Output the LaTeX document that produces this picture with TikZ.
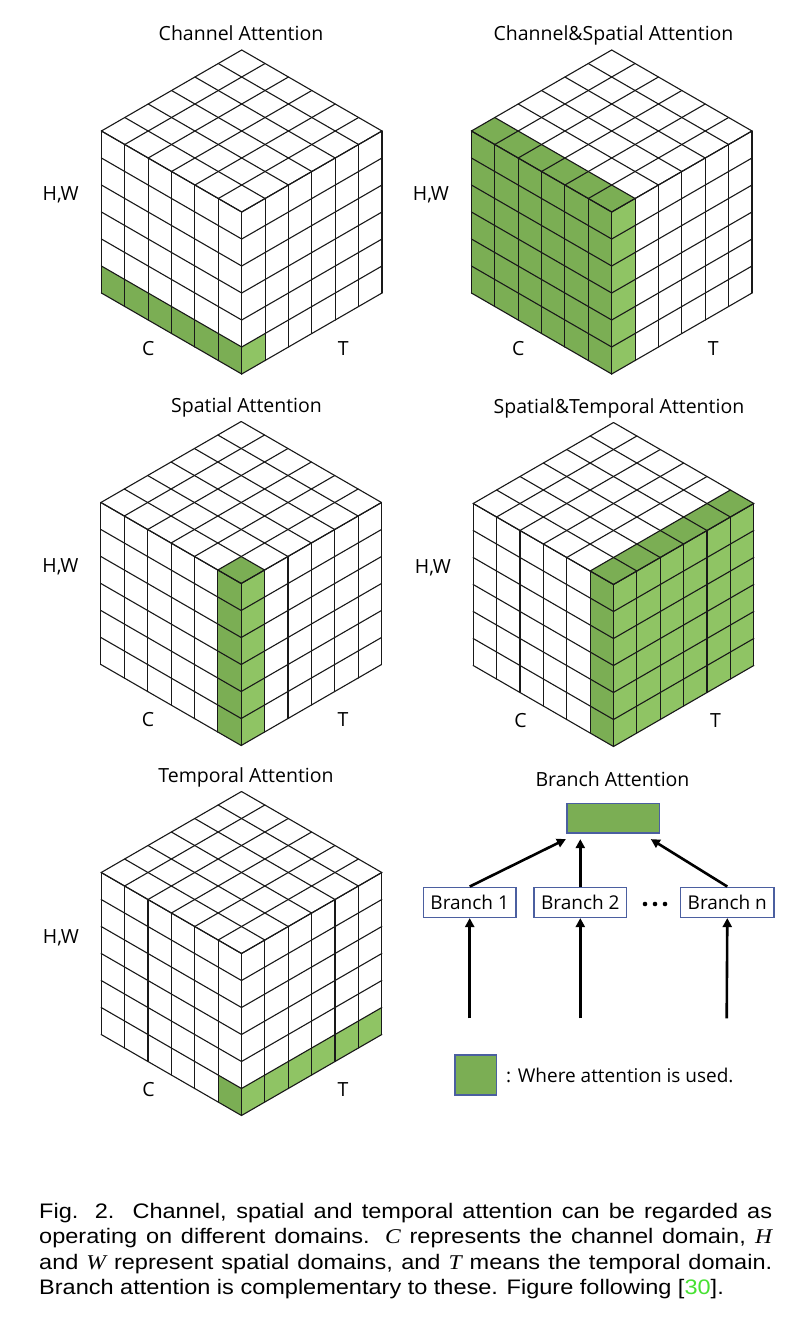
\documentclass[tikz,border=0pt]{standalone}
\usepackage{fontspec}
\setmainfont{Open Sans}
\newfontfamily\capfont[FakeStretch=1.12]{Liberation Sans}
\newfontfamily\timesf[FakeStretch=1.12]{Liberation Serif}
\usetikzlibrary{arrows.meta,calc}
\definecolor{gdark}{RGB}{123,174,84}
\definecolor{glight}{RGB}{143,196,100}
\definecolor{bblue}{RGB}{75,95,160}
\definecolor{cgreen}{RGB}{70,225,50}
\newcommand\cubegrid{%
  \foreach \i in {0,...,6}{%
    \draw[gridline] (\i,0,0) -- (\i,0,6);
    \draw[gridline] (0,0,\i) -- (6,0,\i);
    \draw[gridline] (6,\i,0) -- (6,\i,6);
    \draw[gridline] (6,0,\i) -- (6,6,\i);
    \draw[gridline] (\i,0,6) -- (\i,6,6);
    \draw[gridline] (0,\i,6) -- (6,\i,6);
  }}
\newcommand\attcube[3]{%
  \begin{scope}[shift={(#1-140.3,#2+243)}, x={(23.383pt,-13.5pt)}, y={(23.383pt,13.5pt)}, z={(0pt,27pt)}]
    #3
    \cubegrid
  \end{scope}}
\newcommand\mi[1]{{\timesf\itshape #1}}
\begin{document}
\begin{tikzpicture}[x=1pt,y=-1pt,
  gridline/.style={line width=1.1pt, black!90, line cap=round, line join=round},
  ttl/.style={anchor=base, inner sep=0pt, font=\fontsize{19.5}{22}\selectfont},
  lbl/.style={anchor=base, inner sep=0pt, font=\fontsize{19.5}{22}\selectfont},
  brbox/.style={draw=bblue, line width=1.5pt, fill=white, minimum width=92.7pt, minimum height=30pt, inner sep=0pt, font=\fontsize{19}{22}\selectfont},
  gbox/.style={draw=bblue, line width=1.6pt, fill=gdark, inner sep=0pt},
  arr/.style={line width=2.6pt, -{Triangle[length=9pt,width=9pt]}},
  capl/.style={anchor=base west, inner sep=0pt, font=\capfont\fontsize{21}{25.5}\selectfont}
]
\useasboundingbox (0,0) rectangle (808,1320);
\fill[white] (0,0) rectangle (808,1320);

% Cube 1: Channel Attention
\attcube{241.7}{50}{%
  \fill[gdark] (0,0,0)--(6,0,0)--(6,0,1)--(0,0,1)--cycle;
  \fill[glight] (6,0,0)--(6,1,0)--(6,1,1)--(6,0,1)--cycle;}
\node[ttl] (t1) at (241,40.5) {Channel Attention};
\node[lbl] (c1) at (148.3,355) {C};
\node[lbl] (tt1) at (343.3,355) {T};
\node[lbl] (hw1) at (60.7,200) {H,W};

% Cube 2: Channel&Spatial Attention
\attcube{611.7}{50}{%
  \fill[gdark] (0,0,0)--(6,0,0)--(6,0,6)--(0,0,6)--cycle;
  \fill[gdark] (0,0,6)--(6,0,6)--(6,1,6)--(0,1,6)--cycle;
  \fill[glight] (6,0,0)--(6,1,0)--(6,1,6)--(6,0,6)--cycle;}
\node[ttl] (t2) at (613.5,40.5) {Channel\&Spatial Attention};
\node[lbl] (c2) at (518.3,355) {C};
\node[lbl] (tt2) at (713.3,355) {T};
\node[lbl] (hw2) at (431,200) {H,W};

% Cube 3: Spatial Attention
\attcube{241.2}{421.5}{%
  \fill[gdark] (5,0,0)--(6,0,0)--(6,0,6)--(5,0,6)--cycle;
  \fill[gdark] (5,0,6)--(6,0,6)--(6,1,6)--(5,1,6)--cycle;
  \fill[glight] (6,0,0)--(6,1,0)--(6,1,6)--(6,0,6)--cycle;}
\node[ttl] (t3) at (246.5,412) {Spatial Attention};
\node[lbl] (c3) at (148,726.5) {C};
\node[lbl] (tt3) at (343,726.5) {T};
\node[lbl] (hw3) at (60.5,572) {H,W};

% Cube 4: Spatial&Temporal Attention
\attcube{613.5}{422.5}{%
  \fill[gdark] (5,0,0)--(6,0,0)--(6,0,6)--(5,0,6)--cycle;
  \fill[gdark] (5,0,6)--(6,0,6)--(6,6,6)--(5,6,6)--cycle;
  \fill[glight] (6,0,0)--(6,6,0)--(6,6,6)--(6,0,6)--cycle;}
\node[ttl] (t4) at (619,413) {Spatial\&Temporal Attention};
\node[lbl] (c4) at (520.5,727.5) {C};
\node[lbl] (tt4) at (715.5,727.5) {T};
\node[lbl] (hw4) at (433,573) {H,W};

% Cube 5: Temporal Attention
\attcube{241.5}{791.5}{%
  \fill[gdark] (5,0,0)--(6,0,0)--(6,0,1)--(5,0,1)--cycle;
  \fill[glight] (6,0,0)--(6,6,0)--(6,6,1)--(6,0,1)--cycle;}
\node[ttl] (t5) at (246,782) {Temporal Attention};
\node[lbl] (c5) at (148.5,1096.5) {C};
\node[lbl] (tt5) at (343,1096.5) {T};
\node[lbl] (hw5) at (61,943) {H,W};

% Branch attention
\node[ttl] (tb) at (612.5,786) {Branch Attention};
\node[gbox, minimum width=92.6pt, minimum height=29.4pt] (top) at (613,818) {};
\node[brbox] (b1) at (469.7,902.3) {Branch 1};
\node[brbox] (b2) at (580.3,902.3) {Branch 2};
\node[brbox, minimum width=93.3pt] (bn) at (727.3,902.3) {Branch n};
\fill (645,904) circle (2.3);
\fill (655,904) circle (2.3);
\fill (665,904) circle (2.3);
\draw[arr] (b1.north) -- ($(top.south west)+(0,5.6)$);
\draw[arr] (b2.north) -- ($(b2.north |- top.south)+(0,5.6)$);
\draw[arr] (bn.north) -- ($(top.south east)+(-9.3,5.6)$);
\coordinate (i1) at (469.7,1018.3);
\coordinate (i2) at (580.3,1018.3);
\coordinate (in) at (726.7,1018.3);
\draw[arr] (i1) -- (b1.south);
\draw[arr] (i2) -- (b2.south);
\draw[arr] (in) -- (bn.south);

% legend
\node[gbox, minimum width=41.7pt, minimum height=40pt] (leg) at (475.8,1075) {};
\node[anchor=base west, inner sep=0pt, font=\fontsize{19}{22}\selectfont] (legt) at (506,1082.5) {: Where attention is used.};

% caption
\node[capl] (cap1) at (39,1218) {\makebox[733pt][s]{Fig. 2.\ \ Channel, spatial and temporal attention can be regarded as}};
\node[capl] (cap2) at (39,1243.5) {\makebox[733pt][s]{operating on different domains. \mi{C} represents the channel domain, \mi{H}}};
\node[capl] (cap3) at (39,1269) {\makebox[733pt][s]{and \mi{W} represent spatial domains, and \mi{T} means the temporal domain.}};
\node[capl] (cap4) at (39,1294.5) {Branch attention is complementary to these. Figure following [\textcolor{cgreen}{30}].};
\end{tikzpicture}
\end{document}
